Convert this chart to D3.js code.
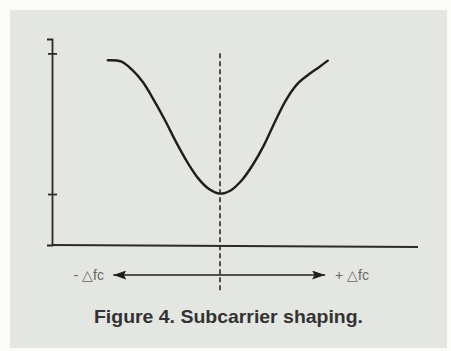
<!DOCTYPE html>
<html>
<head>
<meta charset="utf-8">
<script src="https://cdn.jsdelivr.net/npm/d3@7"></script>
<style>
  body { margin: 0; background: #fbfbfa; }
  svg { display: block; }
</style>
</head>
<body>
<script>
// frequency offset (arbitrary units, 0 = subcarrier centre)
let freqs = [-10.2, -9, -8, -7, -6, -5, -4, -3, -2, -1, 0, 1, 2, 3, 4, 5, 6, 7, 8, 9, 9.8];
// relative amplitude
let amps = [0.964, 0.958, 0.915, 0.849, 0.755, 0.651, 0.538, 0.435, 0.349, 0.292, 0.268,
            0.286, 0.339, 0.420, 0.521, 0.643, 0.756, 0.838, 0.887, 0.928, 0.962];
let yTicks = [0.266, 1];
let leftLabel = '- \u25B3fc';
let rightLabel = '+ \u25B3fc';
let caption = 'Figure 4. Subcarrier shaping.';

let width = 451;
let height = 351;

let x = d3.scaleLinear()
    .domain([-10, 10])
    .range([110, 330]);

let y = d3.scaleLinear()
    .domain([0, 1.075])
    .range([245, 39]);

let svg = d3.select('body')
    .append('svg')
    .attr('width', width)
    .attr('height', height);

svg.append('rect')
    .attr('x', 10)
    .attr('y', 10)
    .attr('width', 437)
    .attr('height', 338)
    .attr('fill', '#e4e6e2');

// y axis with ticks crossing the line
let yAxis = d3.axisLeft(y)
    .tickValues(yTicks)
    .tickSizeOuter(0)
    .tickSize(5)
    .tickFormat('');

let yg = svg.append('g')
    .attr('transform', 'translate(52, 0)')
    .call(yAxis);
yg.select('.domain').attr('stroke', '#2a2a2a').attr('stroke-width', 1.8);
yg.selectAll('.tick line')
    .attr('x1', -4)
    .attr('x2', 5)
    .attr('stroke', '#2a2a2a')
    .attr('stroke-width', 1.8);

// x axis baseline
svg.append('line')
    .attr('x1', 52)
    .attr('x2', x(18))
    .attr('y1', y(0))
    .attr('y2', y(0) + 2)
    .attr('stroke', '#2a2a2a')
    .attr('stroke-width', 1.8);

// centre dashed line
svg.append('line')
    .attr('x1', x(0))
    .attr('x2', x(0))
    .attr('y1', y(1))
    .attr('y2', 291)
    .attr('stroke', '#2a2a2a')
    .attr('stroke-width', 1.6)
    .attr('stroke-dasharray', '5,3');

// the response curve
let line = d3.line()
    .x((d, i) => x(freqs[i]))
    .y(d => y(d))
    .curve(d3.curveCatmullRom.alpha(0.5));

svg.append('path')
    .datum(amps)
    .attr('d', line)
    .attr('fill', 'none')
    .attr('stroke', '#1e1e1e')
    .attr('stroke-width', 2.4)
    .attr('stroke-linecap', 'round');

// double arrow under the axis
let defs = svg.append('defs');
defs.append('marker')
    .attr('id', 'head')
    .attr('viewBox', '0 0 13 9')
    .attr('refX', 13)
    .attr('refY', 4.5)
    .attr('markerWidth', 13)
    .attr('markerHeight', 9)
    .attr('markerUnits', 'userSpaceOnUse')
    .attr('orient', 'auto-start-reverse')
    .append('path')
    .attr('d', 'M0,0 L13,4.5 L0,9 L2.5,4.5 Z')
    .attr('fill', '#1e1e1e');

svg.append('line')
    .attr('x1', x(-9.7))
    .attr('x2', x(9.55))
    .attr('y1', 275)
    .attr('y2', 275)
    .attr('stroke', '#1e1e1e')
    .attr('stroke-width', 1.6)
    .attr('marker-start', 'url(#head)')
    .attr('marker-end', 'url(#head)');

svg.append('text')
    .attr('x', 104)
    .attr('y', 280)
    .attr('text-anchor', 'end')
    .attr('font-family', 'Liberation Sans, sans-serif')
    .attr('font-size', 14)
    .attr('fill', '#666')
    .text(leftLabel);

svg.append('text')
    .attr('x', 335)
    .attr('y', 280)
    .attr('font-family', 'Liberation Sans, sans-serif')
    .attr('font-size', 14)
    .attr('fill', '#666')
    .text(rightLabel);

svg.append('text')
    .attr('x', 94)
    .attr('y', 323)
    .attr('textLength', 269)
    .attr('lengthAdjust', 'spacingAndGlyphs')
    .attr('font-family', 'Liberation Sans Narrow, Liberation Sans, sans-serif')
    .attr('font-weight', 'bold')
    .attr('font-size', 19)
    .attr('fill', '#333')
    .text(caption);
</script>
</body>
</html>
